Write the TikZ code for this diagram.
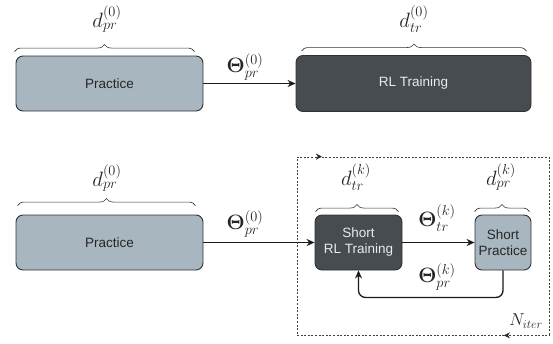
\documentclass[tikz,border=0pt]{standalone}
\usepackage{fontspec}
\usepackage{amsmath}
\usepackage{bm}
\newfontfamily\boxfont{Liberation Sans}
\usetikzlibrary{arrows.meta,decorations.pathreplacing,decorations.markings,calc}
\definecolor{boxlight}{HTML}{A8B6C0}
\definecolor{boxdark}{HTML}{474C50}
\definecolor{edge}{HTML}{2E3236}
\tikzset{
  lightbox/.style={draw=edge, fill=boxlight, line width=0.9pt, rounded corners=7pt,
    font=\boxfont\fontsize{13.5}{16}\selectfont, text=black!85, align=center},
  darkbox/.style={draw=edge, fill=boxdark, line width=0.9pt, rounded corners=7pt,
    font=\boxfont\fontsize{13.5}{16}\selectfont, text=white!92!black, align=center},
  flow/.style={draw=black!90, line width=1.3pt, -{Stealth[length=8pt,width=7pt]}},
  bracket/.style={draw=black!80, line width=0.6pt, decorate,
    decoration={brace, amplitude=7pt}},
  mathlbl/.style={font=\fontsize{20.5}{22}\selectfont, text=black!85},
  looparrow/.style={-{Stealth[length=5pt,width=5pt]}},
}
\begin{document}
\begin{tikzpicture}[x=1pt, y=-1pt]
  \useasboundingbox (0,0) rectangle (553,343);

  % ---------- one-shot pipeline ----------
  \node[lightbox, minimum width=187pt, minimum height=55pt] (prA) at (109.5,83.5) {Practice};
  \node[darkbox, minimum width=235pt, minimum height=56pt] (rlA) at (413.5,83.5) {RL Training};
  \draw[flow] (prA.east) -- (rlA.west);
  \node[mathlbl] (thA) at (245,67) {$\boldsymbol{\Theta}_{pr}^{(0)}$};

  \draw[bracket] ($(prA.north west)+(-1,-4)$) -- ($(prA.north east)+(-9,-4)$);
  \node[mathlbl] (dA) at (107,19) {$d_{pr}^{(0)}$};
  \draw[bracket] ($(rlA.north west)+(6,-4)$) -- ($(rlA.north east)+(-5,-4)$);
  \node[mathlbl] (dB) at (414,19) {$d_{tr}^{(0)}$};

  % ---------- iterated pipeline ----------
  \node[lightbox, minimum width=187pt, minimum height=55pt] (prB) at (109.5,242.5) {Practice};
  \node[darkbox, minimum width=87pt, minimum height=55pt] (srl) at (358.5,242.5) {Short\\RL Training};
  \node[lightbox, minimum width=56pt, minimum height=55pt] (spr) at (503,242.5) {Short\\Practice};

  \draw[flow] (prB.east) -- (srl.west);
  \node[mathlbl] (thB) at (245,224) {$\boldsymbol{\Theta}_{pr}^{(0)}$};
  \draw[flow] (srl.east) -- (spr.west);
  \node[mathlbl] (thC) at (437,218) {$\boldsymbol{\Theta}_{tr}^{(k)}$};
  \draw[flow, rounded corners=7pt] (spr.south) |- ($(srl.south)+(0,27)$) -- (srl.south);
  \node[mathlbl] (thD) at (437,277) {$\boldsymbol{\Theta}_{pr}^{(k)}$};

  \draw[bracket] ($(prB.north west)+(2,-9)$) -- ($(prB.north east)+(-8,-9)$);
  \node[mathlbl] (dC) at (107,178) {$d_{pr}^{(0)}$};
  \draw[bracket] ($(srl.north west)+(1,-3)$) -- ($(srl.north east)+(-4,-3)$);
  \node[mathlbl] (dD) at (356,177) {$d_{tr}^{(k)}$};
  \draw[bracket] ($(spr.north west)+(0,-3)$) -- ($(spr.north east)+(-2,-3)$);
  \node[mathlbl] (dE) at (501,177) {$d_{pr}^{(k)}$};

  % iteration frame
  \node[draw=black!75, line width=0.7pt, dash pattern=on 2pt off 1.6pt,
        minimum width=252pt, minimum height=178pt, inner sep=0pt] (loop) at (423,246) {};
  \path[postaction={decorate}, decoration={markings,
        mark=at position 0.1 with {\arrow[black!85]{Stealth[length=6pt,width=6pt]}}}]
        (loop.north west) -- (loop.north east);
  \path[postaction={decorate}, decoration={markings,
        mark=at position 0.18 with {\arrow[black!85]{Stealth[length=6pt,width=6pt]}}}]
        (loop.south east) -- (loop.south west);
  \node[mathlbl, font=\fontsize{18}{20}\selectfont] (nit) at (526,321) {$N_{iter}$};
\end{tikzpicture}
\end{document}
